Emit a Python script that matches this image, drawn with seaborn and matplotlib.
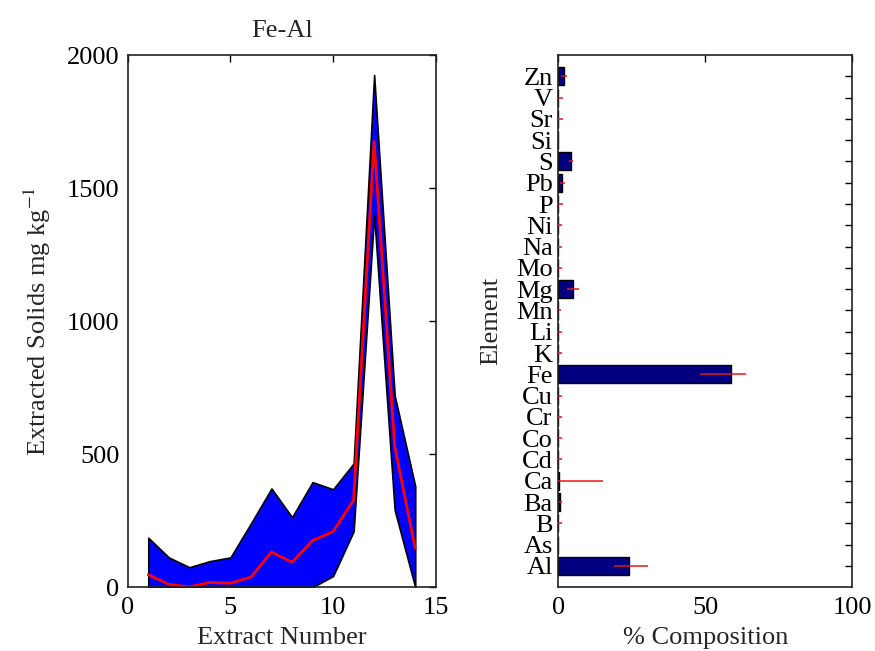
import numpy as np
import pandas as pd
import matplotlib
matplotlib.use("Agg")
import matplotlib.pyplot as plt
import seaborn as sns

# Extraction profile (mg/kg) per extract number
extract = [1, 2, 3, 4, 5, 6, 7, 8, 9, 10, 11, 12, 13, 14]
mean_solids = [47, 11, 1, 18, 15, 38, 132, 94, 175, 209, 327, 1675, 530, 146]
upper_solids = [186, 112, 75, 98, 112, 240, 371, 263, 395, 368, 465, 1925, 720, 380]
lower_solids = [0, 0, 0, 0, 0, 0, 0, 0, 0, 42, 210, 1399, 290, 0]

# Elemental composition (%), listed top to bottom
elements = ["Zn", "V", "Sr", "Si", "S", "Pb", "P", "Ni", "Na", "Mo", "Mg", "Mn",
            "Li", "K", "Fe", "Cu", "Cr", "Co", "Cd", "Ca", "Ba", "B", "As", "Al"]
composition = [2.0, 0, 0, 0, 4.3, 1.4, 0, 0, 0, 0, 5.0, 0,
               0, 0, 58.8, 0, 0, 0, 0, 0.3, 0.7, 0, 0, 24.0]
err_low = [1.0, 1.5, 1.5, 0, 0.8, 0.8, 1.5, 1.2, 1.2, 1.2, 2.0, 0.8,
           1.2, 1.2, 10.5, 1.2, 1.2, 1.2, 1.2, 15.0, 0.5, 1.2, 0, 5.0]
err_high = [1.0, 1.5, 1.5, 0, 0.8, 0.8, 1.5, 1.2, 1.2, 1.2, 2.0, 0.8,
            1.2, 1.2, 5.2, 1.2, 1.2, 1.2, 1.2, 15.0, 0.5, 1.2, 0, 6.4]

sns.set_style("white")
plt.rcParams["font.family"] = ["Liberation Serif", "DejaVu Serif"]
plt.rcParams["mathtext.fontset"] = "stix"

FS = 19

fig = plt.figure(figsize=(8.75, 6.51), dpi=100)
ax1 = fig.add_axes([0.146, 0.098, 0.352, 0.8175])
ax2 = fig.add_axes([0.638, 0.098, 0.336, 0.8175])

# Left panel: range band with mean line
profile = pd.DataFrame({"extract": extract, "mean": mean_solids,
                        "upper": upper_solids, "lower": lower_solids})
ax1.fill_between(profile["extract"], profile["lower"], profile["upper"],
                 facecolor="#0000ff", edgecolor="black", linewidth=1.2, zorder=1)
sns.lineplot(data=profile, x="extract", y="mean", ax=ax1, color="#ff0000",
             linewidth=2, zorder=2)
ax1.set_xlim(0, 15)
ax1.set_ylim(0, 2000)
ax1.set_xticks([0, 5, 10, 15])
ax1.set_yticks([0, 500, 1000, 1500, 2000])
ax1.set_title("Fe-Al", fontsize=FS, pad=13)
ax1.set_xlabel("Extract Number", fontsize=FS, labelpad=6)
ax1.set_ylabel("Extracted Solids mg kg$^{-1}$", fontsize=FS, labelpad=10)

# Right panel: composition bars with error bars
comp = pd.DataFrame({"element": elements, "pct": composition})
sns.barplot(data=comp, x="pct", y="element", order=elements, orient="h",
            color="#000080", edgecolor="black", linewidth=1, width=0.85,
            saturation=1, ax=ax2)
ypos = np.arange(len(elements))
ax2.errorbar(composition, ypos, xerr=[err_low, err_high], fmt="none",
             ecolor="#e8141c", elinewidth=1.1, capsize=0, zorder=3)
ax2.set_xlim(0, 100)
ax2.set_ylim(len(elements), -1)
ax2.set_xticks([0, 50, 100])
ax2.set_xlabel("% Composition", fontsize=FS, labelpad=6)
ax2.set_ylabel("Element", fontsize=FS, labelpad=10)

for ax in (ax1, ax2):
    ax.tick_params(direction="in", top=True, right=True, length=5, width=1,
                   colors="black")
    ax.tick_params(axis="x", labelsize=FS, pad=7)
    for s in ax.spines.values():
        s.set_color("#222222")
        s.set_linewidth(1.2)
ax1.tick_params(axis="y", labelsize=FS, pad=6)
ax2.tick_params(axis="y", left=False, labelsize=FS, pad=4)

fig.savefig("out.png", dpi=100, facecolor="white")
